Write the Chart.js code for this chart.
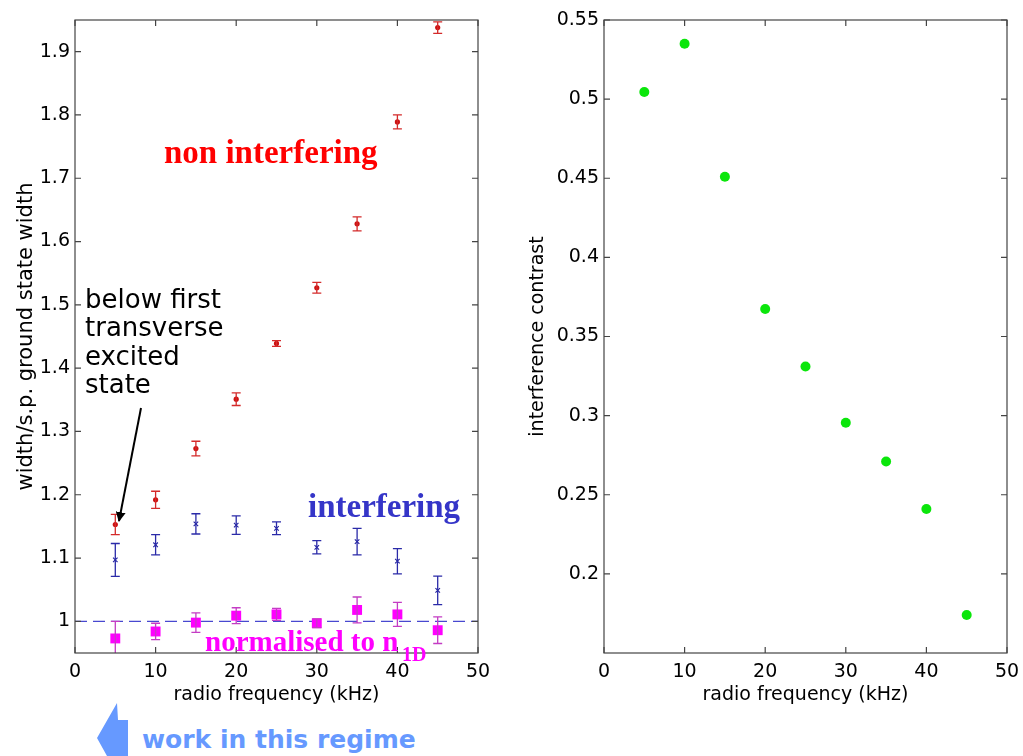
<!DOCTYPE html>
<html>
<head>
<meta charset="utf-8">
<script src="https://cdn.jsdelivr.net/npm/chart.js@4/dist/chart.umd.min.js"></script>
<style>
  body { margin:0; background:#fff; width:1023px; height:756px; overflow:hidden; position:relative; }
  .box { position:absolute; top:0; height:720px; }
  .lbl { position:absolute; white-space:nowrap; line-height:1; }
  .serif { font-family:"Liberation Serif", serif; font-weight:bold; }
</style>
</head>
<body>
<div class="box" style="left:0;width:500px"><canvas id="widthChart"></canvas></div>
<div class="box" style="left:510px;width:513px"><canvas id="contrastChart"></canvas></div>

<div class="lbl serif" style="left:164px;top:136px;font-size:33px;color:#ff0000">non interfering</div>
<div class="lbl serif" style="left:308px;top:490px;font-size:33px;color:#3535c8">interfering</div>
<div class="lbl serif" style="left:205px;top:627px;font-size:29px;color:#ff00ff">normalised to n</div>
<div class="lbl serif" style="left:402px;top:644px;font-size:20px;color:#ff00ff">1D</div>
<div class="lbl" style="left:85px;top:285px;font-family:'DejaVu Sans';font-size:26px;line-height:28.3px;color:#000">below first<br>transverse<br>excited<br>state</div>
<div class="lbl" style="left:142px;top:727px;font-family:'DejaVu Sans';font-weight:bold;font-size:25px;color:#6699ff">work in this regime</div>

<svg style="position:absolute;left:0;top:0" width="1023" height="756">
  <defs>
    <marker id="head" markerWidth="10" markerHeight="10" refX="9" refY="5" orient="auto" markerUnits="userSpaceOnUse">
      <path d="M0,0 L10,5 L0,10 z" fill="#000"/>
    </marker>
  </defs>
  <line x1="141" y1="408" x2="119" y2="521" stroke="#000" stroke-width="2" marker-end="url(#head)"/>
  <polygon points="117,703 118,720 128,720 128,756 107,756 97,738" fill="#6699ff"/>
</svg>

<script>
// radio frequency in kHz
const freqKhz = [5, 10, 15, 20, 25, 30, 35, 40, 45];

// width / single particle ground state width
const nonInterfering    = [1.153, 1.192, 1.273, 1.351, 1.439, 1.527, 1.628, 1.789, 1.938];
const nonInterferingErr = [0.016, 0.0135, 0.0115, 0.010, 0.0045, 0.0085, 0.011, 0.011, 0.009];
const interfering       = [1.097, 1.121, 1.154, 1.152, 1.147, 1.117, 1.126, 1.095, 1.049];
const interferingErr    = [0.026, 0.016, 0.016, 0.0145, 0.010, 0.0105, 0.021, 0.020, 0.0225];
const normalised        = [0.973, 0.984, 0.998, 1.009, 1.011, 0.997, 1.018, 1.011, 0.986];
const normalisedErr     = [0.027, 0.013, 0.0155, 0.0125, 0.0095, 0.007, 0.0205, 0.019, 0.021];
const referenceLevel = 1;

// interference contrast
const contrast = [0.5045, 0.535, 0.451, 0.3674, 0.331, 0.2955, 0.271, 0.241, 0.174];

const xTicks = [0, 10, 20, 30, 40, 50];
const widthTicks = [1, 1.1, 1.2, 1.3, 1.4, 1.5, 1.6, 1.7, 1.8, 1.9];
const contrastTicks = [0.2, 0.25, 0.3, 0.35, 0.4, 0.45, 0.5, 0.55];

const pts = (ys) => ys.map((y, i) => ({x: freqKhz[i], y: y}));
const FONT = {family: "DejaVu Sans", size: 19};

// vertical error bars with small caps
const errorBars = {
  id: "errorBars",
  afterDatasetsDraw(chart) {
    const {ctx, chartArea: a, scales: {x, y}} = chart;
    ctx.save();
    ctx.beginPath(); ctx.rect(a.left, a.top, a.right - a.left, a.bottom - a.top); ctx.clip();
    chart.data.datasets.forEach(ds => {
      if (!ds.err) return;
      ctx.strokeStyle = ds.errColor; ctx.lineWidth = 1.3;
      ds.data.forEach((p, i) => {
        const px = x.getPixelForValue(p.x);
        const y1 = y.getPixelForValue(p.y - ds.err[i]);
        const y2 = y.getPixelForValue(p.y + ds.err[i]);
        ctx.beginPath();
        ctx.moveTo(px, y1); ctx.lineTo(px, y2);
        ctx.moveTo(px - 4.5, y1); ctx.lineTo(px + 4.5, y1);
        ctx.moveTo(px - 4.5, y2); ctx.lineTo(px + 4.5, y2);
        ctx.stroke();
      });
    });
    ctx.restore();
  }
};

// matlab style box with inward ticks on all sides
const frame = {
  id: "frame",
  afterDraw(chart) {
    const {ctx, chartArea: a, scales: {x, y}} = chart;
    ctx.save();
    ctx.strokeStyle = "#444"; ctx.lineWidth = 1.2;
    ctx.strokeRect(a.left, a.top, a.right - a.left, a.bottom - a.top);
    ctx.beginPath();
    x.ticks.forEach(t => {
      const px = x.getPixelForValue(t.value);
      ctx.moveTo(px, a.bottom); ctx.lineTo(px, a.bottom - 6);
      ctx.moveTo(px, a.top); ctx.lineTo(px, a.top + 6);
    });
    y.ticks.forEach(t => {
      const py = y.getPixelForValue(t.value);
      ctx.moveTo(a.left, py); ctx.lineTo(a.left + 6, py);
      ctx.moveTo(a.right, py); ctx.lineTo(a.right - 6, py);
    });
    ctx.stroke();
    ctx.restore();
  }
};

function axes(yMin, yMax, yTicks, yTitle, yAxisWidth, yTitleSize, yTitlePad) {
  return {
    x: {
      type: "linear", min: 0, max: 50,
      afterBuildTicks: s => { s.ticks = xTicks.map(v => ({value: v})); },
      afterFit: s => { s.height = 67; s.paddingLeft = 0; s.paddingRight = 0; },
      grid: {display: false, drawTicks: false}, border: {display: false},
      ticks: {color: "#000", font: FONT, padding: 8, maxRotation: 0},
      title: {display: true, text: "radio frequency (kHz)", color: "#000", font: FONT, padding: {top: 0, bottom: 14}}
    },
    y: {
      type: "linear", min: yMin, max: yMax,
      afterBuildTicks: s => { s.ticks = yTicks.map(v => ({value: v})); },
      afterFit: s => { s.width = yAxisWidth; s.paddingTop = 0; s.paddingBottom = 0; },
      grid: {display: false, drawTicks: false}, border: {display: false},
      ticks: {color: "#000", font: FONT, padding: 5, callback: v => String(+v.toFixed(2))},
      title: {display: true, text: yTitle, color: "#000", font: {family: "DejaVu Sans", size: yTitleSize}, padding: {top: yTitlePad, bottom: 0}}
    }
  };
}

const common = {
  responsive: true, maintainAspectRatio: false, animation: false,
  plugins: {legend: {display: false}, tooltip: {enabled: false}}
};

new Chart(document.getElementById("widthChart"), {
  type: "scatter",
  data: {
    datasets: [
      {data: pts(nonInterfering), err: nonInterferingErr, errColor: "#d42a2a",
       pointStyle: "circle", pointRadius: 2.6, backgroundColor: "#cc1111", borderColor: "#cc1111", borderWidth: 0},
      {data: pts(interfering), err: interferingErr, errColor: "#2a2aa8",
       pointStyle: "crossRot", pointRadius: 3.2, borderColor: "#2020a0", borderWidth: 1.1},
      {data: pts(normalised), err: normalisedErr, errColor: "#c43cc4",
       pointStyle: "rect", pointRadius: 7, backgroundColor: "#ff00ff", borderColor: "#ff00ff", borderWidth: 0},
      {data: [{x: 0, y: referenceLevel}, {x: 50, y: referenceLevel}], showLine: true, pointRadius: 0,
       borderColor: "#4848d0", borderWidth: 1.4, borderDash: [12, 6]}
    ]
  },
  options: {
    ...common,
    layout: {padding: {left: 0, top: 20, right: 22, bottom: 0}},
    scales: axes(0.95, 1.95, widthTicks, "width/s.p. ground state width", 75, 21, 14)
  },
  plugins: [errorBars, frame]
});

new Chart(document.getElementById("contrastChart"), {
  type: "scatter",
  data: {
    datasets: [
      {data: pts(contrast), pointStyle: "circle", pointRadius: 5, backgroundColor: "#0be60b", borderColor: "#0be60b", borderWidth: 0}
    ]
  },
  options: {
    ...common,
    layout: {padding: {left: 0, top: 20, right: 16, bottom: 0}},
    scales: axes(0.15, 0.55, contrastTicks, "interference contrast", 94, 19, 17)
  },
  plugins: [errorBars, frame]
});
</script>
</body>
</html>
